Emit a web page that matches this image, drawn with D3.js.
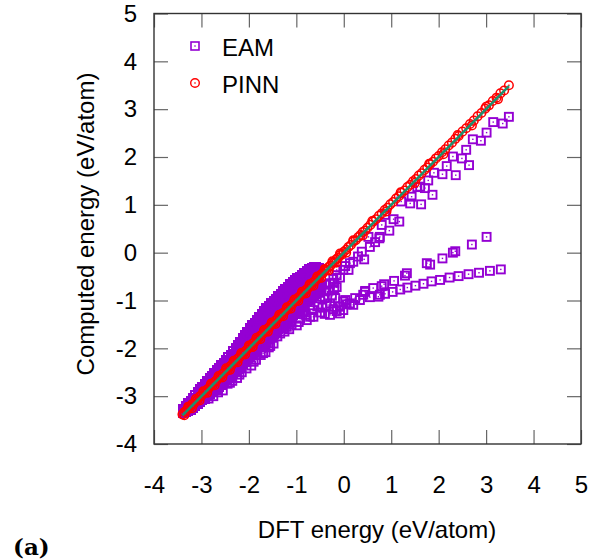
<!DOCTYPE html>
<html><head><meta charset="utf-8">
<script src="https://cdn.jsdelivr.net/npm/d3@7"></script>
<style>
html,body{margin:0;padding:0;background:#fff;}
svg text{font-family:"Liberation Sans",Arial,Helvetica,sans-serif;}
</style></head>
<body><svg id="chart" width="593" height="560"></svg>
<script>
// ---------- DATA ----------
const xTicks = [-4,-3,-2,-1,0,1,2,3,4,5];
const yTicks = [-4,-3,-2,-1,0,1,2,3,4,5];
const seriesNames = ["EAM","PINN"];
const xLabel = "DFT energy (eV/atom)";
const yLabel = "Computed energy (eV/atom)";
const panelLabel = "(a)";

// EAM dense main band, one row per DFT energy: [dft, computed values...]
const eamDenseCols = [
[-3.38,-3.36,-3.26],
[-3.33,-3.34,-3.25,-3.20],
[-3.28,-3.31,-3.21,-3.15],
[-3.23,-3.28,-3.18,-3.10],
[-3.18,-3.25,-3.14,-3.04],
[-3.13,-3.21,-3.10,-2.98],
[-3.08,-3.17,-3.06,-2.96,-2.92],
[-3.03,-3.13,-3.02,-2.92,-2.86],
[-2.98,-3.09,-2.98,-2.88,-2.80],
[-2.93,-3.05,-2.94,-2.84,-2.74],
[-2.88,-3.00,-2.90,-2.79,-2.68],
[-2.83,-2.96,-2.85,-2.74,-2.63],
[-2.78,-2.92,-2.81,-2.70,-2.58],
[-2.73,-2.88,-2.77,-2.66,-2.56,-2.52],
[-2.68,-2.84,-2.73,-2.62,-2.51,-2.46],
[-2.63,-2.80,-2.69,-2.58,-2.47,-2.41],
[-2.58,-2.76,-2.65,-2.54,-2.43,-2.35],
[-2.53,-2.72,-2.61,-2.50,-2.40,-2.30],
[-2.48,-2.67,-2.56,-2.46,-2.35,-2.25],
[-2.43,-2.63,-2.52,-2.41,-2.30,-2.19],
[-2.38,-2.58,-2.47,-2.36,-2.24,-2.13],
[-2.33,-2.53,-2.42,-2.31,-2.19,-2.06],
[-2.28,-2.48,-2.37,-2.26,-2.14,-2.02,-2.00],
[-2.23,-2.43,-2.32,-2.20,-2.08,-1.96,-1.93],
[-2.18,-2.38,-2.27,-2.15,-2.03,-1.92,-1.86],
[-2.13,-2.33,-2.22,-2.10,-1.98,-1.87,-1.79],
[-2.08,-2.28,-2.17,-2.05,-1.93,-1.82,-1.72],
[-2.03,-2.23,-2.12,-2.00,-1.88,-1.76,-1.65],
[-1.98,-2.18,-2.07,-1.95,-1.83,-1.71,-1.60,-1.58],
[-1.93,-2.13,-2.02,-1.90,-1.78,-1.66,-1.55,-1.52],
[-1.88,-2.08,-1.97,-1.85,-1.73,-1.61,-1.50,-1.46],
[-1.83,-2.03,-1.92,-1.80,-1.68,-1.56,-1.45,-1.40],
[-1.78,-1.98,-1.87,-1.75,-1.63,-1.51,-1.40,-1.34],
[-1.73,-1.93,-1.82,-1.70,-1.58,-1.46,-1.35,-1.28],
[-1.68,-1.88,-1.77,-1.65,-1.53,-1.41,-1.30,-1.22],
[-1.63,-1.84,-1.72,-1.60,-1.48,-1.36,-1.25,-1.16],
[-1.58,-1.80,-1.68,-1.56,-1.44,-1.32,-1.21,-1.11],
[-1.53,-1.75,-1.63,-1.51,-1.39,-1.27,-1.16,-1.06],
[-1.48,-1.70,-1.58,-1.46,-1.34,-1.22,-1.11,-1.01],
[-1.43,-1.65,-1.53,-1.41,-1.29,-1.17,-1.06,-0.96],
[-1.38,-1.60,-1.48,-1.36,-1.24,-1.12,-1.01,-0.91],
[-1.33,-1.56,-1.44,-1.32,-1.20,-1.08,-0.96,-0.86],
[-1.28,-1.51,-1.39,-1.27,-1.15,-1.03,-0.91,-0.81],
[-1.23,-1.46,-1.34,-1.22,-1.10,-0.98,-0.86,-0.76],
[-1.18,-1.41,-1.29,-1.17,-1.05,-0.93,-0.81,-0.71],
[-1.13,-1.36,-1.24,-1.12,-1.00,-0.88,-0.76,-0.66],
[-1.08,-1.31,-1.19,-1.07,-0.95,-0.83,-0.72,-0.62],
[-1.03,-1.26,-1.14,-1.02,-0.90,-0.78,-0.67,-0.58],
[-0.98,-1.22,-1.10,-0.98,-0.86,-0.74,-0.63,-0.54],
[-0.93,-1.18,-1.06,-0.94,-0.82,-0.70,-0.59,-0.50],
[-0.88,-1.13,-1.01,-0.89,-0.77,-0.65,-0.55,-0.46],
[-0.83,-1.08,-0.96,-0.84,-0.72,-0.60,-0.50,-0.42],
[-0.78,-1.03,-0.91,-0.79,-0.67,-0.56,-0.46,-0.38],
[-0.73,-0.98,-0.86,-0.74,-0.62,-0.51,-0.42,-0.35],
[-0.68,-0.93,-0.81,-0.69,-0.58,-0.47,-0.39,-0.32],
[-0.63,-0.90,-0.78,-0.66,-0.54,-0.43,-0.31],
[-0.58,-0.86,-0.74,-0.62,-0.51,-0.40,-0.31],
[-0.53,-0.82,-0.70,-0.58,-0.46,-0.33]
];
// EAM dense band, second set of configurations (in between the first set)
const eamDenseCols2 = [
[-3.355,-3.31],
[-3.305,-3.29,-3.22],
[-3.255,-3.26,-3.18],
[-3.205,-3.23,-3.14],
[-3.155,-3.19,-3.09],
[-3.105,-3.15,-3.04],
[-3.055,-3.11,-3.01,-2.94],
[-3.005,-3.07,-2.97,-2.89],
[-2.955,-3.03,-2.93,-2.84],
[-2.905,-2.99,-2.89,-2.79],
[-2.855,-2.95,-2.84,-2.73],
[-2.805,-2.90,-2.79,-2.68],
[-2.755,-2.86,-2.75,-2.64],
[-2.705,-2.82,-2.71,-2.61,-2.54],
[-2.655,-2.78,-2.67,-2.56,-2.48],
[-2.605,-2.74,-2.63,-2.52,-2.44],
[-2.555,-2.70,-2.59,-2.48,-2.39],
[-2.505,-2.66,-2.55,-2.45,-2.35],
[-2.455,-2.61,-2.51,-2.40,-2.30],
[-2.405,-2.57,-2.46,-2.35,-2.24],
[-2.355,-2.52,-2.41,-2.30,-2.18],
[-2.305,-2.47,-2.36,-2.25,-2.12],
[-2.255,-2.42,-2.31,-2.20,-2.08,-2.01],
[-2.205,-2.37,-2.26,-2.14,-2.02,-1.94],
[-2.155,-2.32,-2.21,-2.09,-1.97,-1.88],
[-2.105,-2.27,-2.16,-2.04,-1.92,-1.82],
[-2.055,-2.22,-2.11,-1.99,-1.87,-1.76],
[-2.005,-2.17,-2.06,-1.94,-1.82,-1.70],
[-1.955,-2.12,-2.01,-1.89,-1.77,-1.65],
[-1.905,-2.07,-1.96,-1.84,-1.72,-1.60,-1.53],
[-1.855,-2.02,-1.91,-1.79,-1.67,-1.55,-1.47],
[-1.805,-1.97,-1.86,-1.74,-1.62,-1.50,-1.42],
[-1.755,-1.92,-1.81,-1.69,-1.57,-1.45,-1.36],
[-1.705,-1.87,-1.76,-1.64,-1.52,-1.40,-1.30],
[-1.655,-1.83,-1.71,-1.59,-1.47,-1.35,-1.24],
[-1.605,-1.78,-1.66,-1.54,-1.42,-1.30,-1.19],
[-1.555,-1.74,-1.62,-1.50,-1.38,-1.26,-1.14],
[-1.505,-1.69,-1.57,-1.45,-1.33,-1.21,-1.09],
[-1.455,-1.64,-1.52,-1.40,-1.28,-1.16,-1.04],
[-1.405,-1.59,-1.47,-1.35,-1.23,-1.11,-0.99],
[-1.355,-1.54,-1.42,-1.30,-1.18,-1.06,-0.94],
[-1.305,-1.50,-1.38,-1.26,-1.14,-1.02,-0.89],
[-1.255,-1.45,-1.33,-1.21,-1.09,-0.97,-0.84],
[-1.205,-1.40,-1.28,-1.16,-1.04,-0.92,-0.79],
[-1.155,-1.35,-1.23,-1.11,-0.99,-0.87,-0.74],
[-1.105,-1.30,-1.18,-1.06,-0.94,-0.82,-0.69],
[-1.055,-1.25,-1.13,-1.01,-0.89,-0.78,-0.65],
[-1.005,-1.20,-1.08,-0.96,-0.84,-0.73,-0.61],
[-0.955,-1.16,-1.04,-0.92,-0.80,-0.69,-0.57],
[-0.905,-1.12,-1.00,-0.88,-0.76,-0.65,-0.53],
[-0.855,-1.07,-0.95,-0.83,-0.71,-0.60,-0.49],
[-0.805,-1.02,-0.90,-0.78,-0.66,-0.55,-0.45],
[-0.755,-0.97,-0.85,-0.73,-0.62,-0.51,-0.41],
[-0.705,-0.92,-0.80,-0.68,-0.57,-0.47,-0.38],
[-0.655,-0.87,-0.75,-0.64,-0.53,-0.43,-0.35],
[-0.605,-0.84,-0.72,-0.60,-0.49,-0.37],
[-0.555,-0.80,-0.68,-0.56,-0.45,-0.35]
];
// EAM: fringe below the main band
const eamFringe = [
[-2.85,-3.05],[-2.75,-3.00],[-2.65,-2.92],[-2.55,-2.88],[-2.45,-2.74],[-2.40,-2.72],
[-2.35,-2.68],[-2.25,-2.62],[-2.20,-2.55],[-2.15,-2.50],[-2.05,-2.42],[-1.95,-2.36],
[-1.90,-2.28],[-1.85,-2.24],[-1.75,-2.14],[-1.70,-2.10],[-1.65,-2.08],[-1.58,-1.98],
[-1.55,-1.95],[-1.48,-1.90],[-1.40,-1.75],[-1.25,-1.65],[-1.15,-1.60],[-1.10,-1.50],
[-0.95,-1.45],[-0.80,-1.30],[-0.70,-1.10],[-0.65,-1.20],[-0.45,-1.15],[-0.40,-0.95],
[-0.25,-0.90]
];
// EAM: tail just below the diagonal
const eamTail = [
[-1.00,-1.05],[-0.90,-1.00],[-0.80,-0.96],[-0.70,-0.91],[-0.60,-0.87],[-0.50,-0.84],
[-0.40,-0.81],[-0.30,-0.79],[-0.20,-0.76],[-0.60,-0.74],[-0.50,-0.70],[-0.40,-0.67],
[-0.30,-0.65],[-0.20,-0.63],[-0.15,-0.72]
];
// EAM: lowest fan branch
const eamLow = [
[-1.77,-1.97],[-1.62,-1.89],[-1.49,-1.78],[-1.34,-1.69],[-1.27,-1.58],[-1.20,-1.55],
[-1.13,-1.46],[-0.99,-1.52],[-0.92,-1.38],[-0.78,-1.41],[-0.71,-1.34],[-0.64,-1.34],
[-0.50,-1.25],[-0.40,-1.28],[-0.29,-1.30],[-0.22,-1.18],[-0.15,-1.22],[-0.08,-1.27],
[-0.01,-1.20],[0.06,-1.08],[0.13,-1.06],[0.20,-1.09],[0.34,-0.99],[0.24,-0.95],
[0.41,-0.88],[0.55,-0.93],[0.73,-0.92],[0.76,-0.88],[0.87,-0.86],[1.03,-0.82],
[1.19,-0.77],[1.34,-0.73],[1.51,-0.69],[1.68,-0.65],[1.85,-0.60],[2.03,-0.57],
[2.23,-0.52],[2.42,-0.49],[2.63,-0.45],[2.85,-0.42],[3.08,-0.38],[3.31,-0.35],
[-1.06,-1.27],[-0.92,-1.13],[-0.50,-0.92],[-0.29,-1.06],[0.03,-0.99],[-0.18,-0.95],
[-0.01,-1.02],[-0.08,-1.13],[0.45,-0.82],[-0.36,-1.10],[-0.55,-1.12],[-0.85,-1.25]
];
// EAM: middle branch
const eamMid = [
[0.45,-0.80],[0.62,-0.74],[0.80,-0.70],[0.85,-0.66],[1.06,-0.59],[1.29,-0.48],
[1.33,-0.43],[1.75,-0.22],[1.82,-0.25],[2.08,-0.12],[2.30,0.00],[2.35,0.03],
[2.70,0.17],[3.01,0.33]
];
// EAM: upper branch close to the diagonal
const eamUp = [
[-0.29,-0.64],[-0.22,-0.55],[-0.15,-0.47],[-0.08,-0.52],[-0.15,-0.36],[-0.01,-0.36],
[0.10,-0.36],[0.03,-0.28],[0.13,-0.22],[0.20,-0.19],[0.30,-0.08],[0.38,0.02],
[0.43,-0.14],[0.55,0.12],[0.52,0.33],[0.66,0.22],[0.75,0.30],[0.76,0.33],
[0.80,0.58],[0.87,0.79],[0.96,0.46],[1.05,0.70],[1.17,0.65],[1.21,1.07],
[1.40,1.03],[1.43,1.17],[1.55,1.37],[1.63,1.01],[1.61,1.38],[1.71,1.35],
[1.78,1.51],[1.87,1.21],[1.90,1.67],[2.08,1.64],[2.17,1.81],[2.36,1.62],
[2.30,2.01],[2.49,1.97],[2.64,1.83],[2.58,2.15],[2.72,2.37],[2.89,2.34],
[3.01,2.51],[3.15,2.73],[3.35,2.70],[3.48,2.84]
];
// PINN
const pinn = [
[-3.40,-3.38],[-3.36,-3.33],[-3.32,-3.31],[-3.28,-3.25],[-3.24,-3.23],[-3.20,-3.17],[-3.16,-3.16],[-3.12,-3.10],
[-3.08,-3.08],[-3.04,-3.01],[-3.00,-2.99],[-2.96,-2.93],[-2.92,-2.92],[-2.88,-2.86],[-2.84,-2.83],[-2.80,-2.77],
[-2.76,-2.76],[-2.72,-2.70],[-2.68,-2.67],[-2.64,-2.61],[-2.60,-2.60],[-2.56,-2.54],[-2.52,-2.51],[-2.48,-2.45],
[-2.44,-2.44],[-2.40,-2.38],[-2.36,-2.35],[-2.32,-2.29],[-2.28,-2.28],[-2.24,-2.22],[-2.20,-2.19],[-2.16,-2.13],
[-2.12,-2.12],[-2.08,-2.06],[-2.04,-2.03],[-2.00,-1.97],[-1.96,-1.96],[-1.92,-1.90],[-1.88,-1.87],[-1.84,-1.81],
[-1.80,-1.80],[-1.76,-1.74],[-1.72,-1.71],[-1.68,-1.65],[-1.64,-1.64],[-1.60,-1.58],[-1.56,-1.55],[-1.52,-1.49],
[-1.48,-1.48],[-1.44,-1.42],[-1.40,-1.39],[-1.36,-1.33],[-1.32,-1.32],[-1.28,-1.26],[-1.24,-1.23],[-1.20,-1.17],
[-1.16,-1.16],[-1.12,-1.10],[-1.08,-1.07],[-1.04,-1.01],[-1.00,-1.00],[-0.96,-0.94],[-0.92,-0.91],[-0.88,-0.85],
[-0.84,-0.84],[-0.80,-0.78],[-0.76,-0.75],[-0.72,-0.69],[-0.68,-0.68],[-0.64,-0.62],[-0.60,-0.59],[-0.56,-0.53],
[-0.52,-0.52],[-0.48,-0.46],[-0.44,-0.43],[-0.40,-0.37],[-0.36,-0.36],[-0.32,-0.30],[-0.28,-0.27],[-0.24,-0.21],
[-0.20,-0.20],[-0.16,-0.14],[-0.12,-0.11],[-0.08,-0.05],[-0.04,-0.04],[0.00,0.02],[0.05,0.06],[0.10,0.12],
[0.15,0.16],[0.20,0.23],[0.25,0.26],[0.30,0.32],[0.35,0.37],[0.40,0.43],[0.45,0.46],[0.50,0.52],
[0.56,0.58],[0.62,0.65],[0.68,0.70],[0.74,0.77],[0.80,0.82],[0.86,0.89],[0.92,0.94],[0.98,1.01],
[1.04,1.06],[1.10,1.13],[1.16,1.18],[1.22,1.25],[1.28,1.30],[1.34,1.37],[1.40,1.42],[1.46,1.49],
[1.52,1.54],[1.58,1.61],[1.64,1.66],[1.70,1.73],[1.76,1.78],[1.82,1.85],[1.88,1.90],[1.94,1.97],
[2.00,2.02],[2.07,2.10],[2.14,2.16],[2.21,2.24],[2.28,2.30],[2.35,2.38],[2.42,2.44],[2.50,2.53],
[2.58,2.60],[2.66,2.69],[2.74,2.76],[2.82,2.85],[2.90,2.92],[2.98,3.01],[3.06,3.08],[3.14,3.17],
[3.22,3.24],[3.30,3.33],[3.38,3.39],[3.48,3.50]
];
const pinnSpread = [
[-3.36,-3.40],[-3.28,-3.22],[-3.20,-3.25],[-3.12,-3.06],[-3.04,-3.09],[-2.96,-2.90],[-2.88,-2.93],[-2.80,-2.74],
[-2.72,-2.77],[-2.64,-2.58],[-2.56,-2.61],[-2.48,-2.42],[-2.40,-2.45],[-2.32,-2.26],[-2.24,-2.29],[-2.16,-2.10],
[-2.08,-2.13],[-2.00,-1.94],[-1.92,-1.97],[-1.84,-1.78],[-1.76,-1.81],[-1.68,-1.62],[-1.60,-1.65],[-1.52,-1.46],
[-1.44,-1.49],[-1.36,-1.30],[-1.28,-1.33],[-1.20,-1.14],[-1.12,-1.17],[-1.04,-0.98],[-0.96,-1.01],[-0.88,-0.82],
[-0.80,-0.85],[-0.72,-0.66],[-0.64,-0.69],[-0.56,-0.50],[-0.48,-0.53],[-0.40,-0.34],[-0.32,-0.37],[-0.24,-0.18],
[-0.16,-0.21],[-0.08,-0.02],[0.05,0.00],[0.20,0.26],[0.40,0.36],[0.60,0.66],[0.90,0.86],[1.20,1.26],
[1.50,1.46],[1.80,1.86],[2.10,2.06],[2.40,2.46],[2.70,2.66],[3.00,3.05],[3.25,3.21]
];
// y = x reference line (start / end DFT energies)
const idealLine = [[-3.40,-3.40],[3.48,3.48]];

// ---------- DRAW ----------
const eamDense = [];
eamDenseCols.concat(eamDenseCols2).forEach(c => c.slice(1).forEach(v => eamDense.push([c[0], v])));
const eamSparse = [].concat(eamFringe, eamTail, eamLow, eamMid, eamUp);
const pinnAll = [].concat(pinn, pinnSpread);
const L = 154, R = 581, T = 13.5, B = 444;
const x = d3.scaleLinear().domain([-4,5]).range([L,R]);
const y = d3.scaleLinear().domain([-4,5]).range([B,T]);
const svg = d3.select("#chart");
const purple = "#9400d3", red = "#ff0000", green = "#1f8f6e";
const fontSize = 24;

const fmt = d => String(d);
function styleAxis(g){
  g.select(".domain").remove();
  g.selectAll(".tick line").attr("stroke","#666").attr("stroke-width",1.2);
  g.selectAll(".tick text").attr("fill","#000").style("font-size",fontSize+"px")
    .style("font-family","'Liberation Sans', Arial, sans-serif");
}
svg.append("g").attr("transform",`translate(0,${B})`)
  .call(d3.axisBottom(x).tickValues(xTicks).tickFormat(fmt).tickSize(-14).tickPadding(32))
  .call(styleAxis);
svg.append("g").attr("transform",`translate(0,${T})`)
  .call(d3.axisTop(x).tickValues(xTicks).tickFormat("").tickSize(-14))
  .call(styleAxis);
svg.append("g").attr("transform",`translate(${L},0)`)
  .call(d3.axisLeft(y).tickValues(yTicks).tickFormat(fmt).tickSize(-14).tickPadding(17))
  .call(styleAxis);
svg.append("g").attr("transform",`translate(${R},0)`)
  .call(d3.axisRight(y).tickValues(yTicks).tickFormat("").tickSize(-14))
  .call(styleAxis);

// EAM squares
const s = 8;
function drawSquares(g, data, crisp){
  g.selectAll(null).data(data).join("rect")
    .attr("x",d=>x(d[0])-s/2).attr("y",d=>y(d[1])-s/2).attr("width",s).attr("height",s)
    .attr("fill","none").attr("stroke",purple).attr("stroke-width",crisp ? 2 : 1.9)
    .attr("shape-rendering", crisp ? "crispEdges" : "auto");
  g.selectAll(null).data(data).join("rect")
    .attr("x",d=>x(d[0])-0.7).attr("y",d=>y(d[1])-0.7).attr("width",1.4).attr("height",1.4)
    .attr("fill",purple);
}
drawSquares(svg.append("g"), eamDense, true);
drawSquares(svg.append("g"), eamSparse, false);

// PINN circles
const gp = svg.append("g");
gp.selectAll("circle.m").data(pinnAll).join("circle").attr("class","m")
  .attr("cx",d=>x(d[0])).attr("cy",d=>y(d[1])).attr("r",4.3)
  .attr("fill","none").attr("stroke",red).attr("stroke-width",1.5);
gp.selectAll("rect.c").data(pinnAll).join("rect").attr("class","c")
  .attr("x",d=>x(d[0])-0.7).attr("y",d=>y(d[1])-0.7).attr("width",1.4).attr("height",1.4)
  .attr("fill",red);

// ideal line
svg.append("path").datum(idealLine)
  .attr("d",d3.line().x(d=>x(d[0])).y(d=>y(d[1])))
  .attr("stroke",green).attr("stroke-width",2.6).attr("fill","none");

// frame
svg.append("rect").attr("x",L).attr("y",T).attr("width",R-L).attr("height",B-T)
  .attr("fill","none").attr("stroke","#333").attr("stroke-width",1.4);

// legend
const lg = svg.append("g");
lg.append("rect").attr("x",195-s/2).attr("y",46-s/2).attr("width",s).attr("height",s)
  .attr("fill","none").attr("stroke",purple).attr("stroke-width",1.6);
lg.append("rect").attr("x",195-0.7).attr("y",46-0.7).attr("width",1.4).attr("height",1.4).attr("fill",purple);
lg.append("circle").attr("cx",195).attr("cy",83).attr("r",4.3)
  .attr("fill","none").attr("stroke",red).attr("stroke-width",1.4);
lg.append("rect").attr("x",195-0.7).attr("y",83-0.7).attr("width",1.4).attr("height",1.4).attr("fill",red);
lg.append("text").attr("x",222).attr("y",56).style("font-size",fontSize+"px").text(seriesNames[0]);
lg.append("text").attr("x",222).attr("y",93).style("font-size",fontSize+"px").text(seriesNames[1]);

// axis labels
svg.append("text").attr("x",377).attr("y",538).attr("text-anchor","middle")
  .style("font-size",fontSize+"px").text(xLabel);
svg.append("text").attr("transform","translate(94,224) rotate(-90)").attr("text-anchor","middle")
  .style("font-size",fontSize+"px").text(yLabel);
svg.append("text").attr("x",13).attr("y",555)
  .style("font-family","'DejaVu Serif', 'Liberation Serif', serif").style("font-weight","bold")
  .style("font-size","23px").text(panelLabel);
</script></body></html>
